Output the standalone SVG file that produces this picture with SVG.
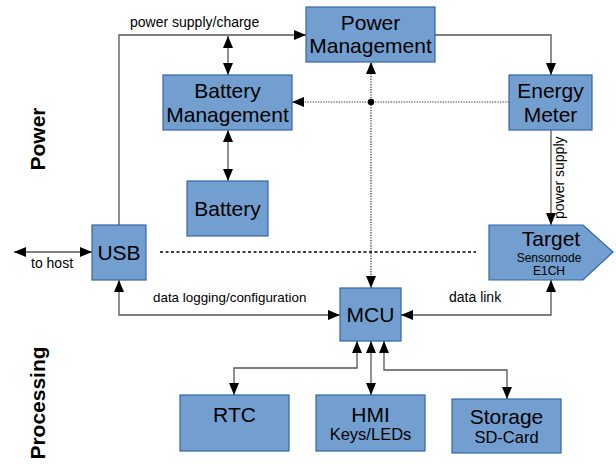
<svg xmlns="http://www.w3.org/2000/svg" width="616" height="464" viewBox="0 0 616 464">
<style>
.box{fill:#729fcf;stroke:#3465a4;stroke-width:1.2}
.t{font-family:"Liberation Sans",Arial,sans-serif;font-size:21px;fill:#000;text-anchor:middle}
.s{font-family:"Liberation Sans",Arial,sans-serif;font-size:16.5px;fill:#000;text-anchor:middle}
.xs{font-family:"Liberation Sans",Arial,sans-serif;font-size:12px;fill:#000;text-anchor:middle}
.lbl{font-family:"Liberation Sans",Arial,sans-serif;font-size:14px;fill:#000}
.sec{font-family:"Liberation Sans",Arial,sans-serif;font-size:21px;font-weight:bold;fill:#000;text-anchor:middle}
.ln{fill:none;stroke:#555;stroke-width:1.3}
.dot{fill:none;stroke:#333;stroke-width:1.2;stroke-dasharray:1.3 1.3}
.dash{fill:none;stroke:#000;stroke-width:1.3;stroke-dasharray:3 2.5}
</style>
<defs>
<marker id="a" viewBox="0 0 12 10" refX="12" refY="5" markerWidth="12" markerHeight="10" markerUnits="userSpaceOnUse" orient="auto-start-reverse">
<path d="M0,0 L12,5 L0,10 z" fill="#000"/>
</marker>
</defs>
<text class="sec" transform="translate(45,139) rotate(-90)">Power</text>
<text class="sec" transform="translate(45,403) rotate(-90)">Processing</text>
<g id="connectors">
<path class="ln" d="M119,225 L119,35 L306,35" marker-end="url(#a)"/>
<text class="lbl" x="130" y="27">power supply/charge</text>
<path class="ln" d="M228,36 L228,75" marker-start="url(#a)" marker-end="url(#a)"/>
<path class="ln" d="M228,130 L228,181" marker-start="url(#a)" marker-end="url(#a)"/>
<path class="ln" d="M435,35 L551,35 L551,75" marker-end="url(#a)"/>
<path class="ln" d="M551,130 L551,225" marker-end="url(#a)"/>
<text class="lbl" transform="translate(564,219) rotate(-90)">power supply</text>
<path class="dot" d="M509,102 L292,102" marker-end="url(#a)"/>
<path class="dot" d="M371,288 L371,62" marker-start="url(#a)" marker-end="url(#a)"/>
<circle cx="371" cy="102" r="3.2" fill="#000"/>
<path class="dash" d="M160,252 L476,252"/>
<path class="ln" d="M14,252 L92,252" marker-start="url(#a)" marker-end="url(#a)"/>
<text class="lbl" x="31" y="268">to host</text>
<path class="ln" d="M119,280 L119,315 L340,315" marker-start="url(#a)" marker-end="url(#a)"/>
<text class="lbl" x="153" y="302" style="font-size:13.4px">data logging/configuration</text>
<path class="ln" d="M401,315 L551,315 L551,280" marker-start="url(#a)" marker-end="url(#a)"/>
<text class="lbl" x="449" y="302">data link</text>
<path class="ln" d="M357,341 L357,368 L234,368 L234,395" marker-start="url(#a)" marker-end="url(#a)"/>
<path class="ln" d="M371,341 L371,395" marker-start="url(#a)" marker-end="url(#a)"/>
<path class="ln" d="M384,341 L384,370 L507,370 L507,399" marker-start="url(#a)" marker-end="url(#a)"/>
</g>
<g id="power-management">
<rect class="box" x="306" y="7" width="129" height="55"/>
<text class="t" x="370.5" y="30">Power</text>
<text class="t" x="370.5" y="53">Management</text>
</g>
<g id="battery-management">
<rect class="box" x="163" y="75" width="129" height="55"/>
<text class="t" x="227.5" y="98">Battery</text>
<text class="t" x="227.5" y="122">Management</text>
</g>
<g id="battery">
<rect class="box" x="187" y="181" width="81" height="55"/>
<text class="t" x="227.5" y="216">Battery</text>
</g>
<g id="energy-meter">
<rect class="box" x="509" y="75" width="83" height="55"/>
<text class="t" x="550.5" y="98">Energy</text>
<text class="t" x="550.5" y="122">Meter</text>
</g>
<g id="usb">
<rect class="box" x="92" y="225" width="54" height="55"/>
<text class="t" x="119" y="260">USB</text>
</g>
<g id="target">
<polygon class="box" points="489,225 583,225 613,252 583,280 489,280"/>
<text class="t" x="551" y="246">Target</text>
<text class="xs" x="549" y="262">Sensornode</text>
<text class="xs" x="549" y="275">E1CH</text>
</g>
<g id="mcu">
<rect class="box" x="340" y="288" width="61" height="53"/>
<text class="t" x="370.5" y="322">MCU</text>
</g>
<g id="rtc">
<rect class="box" x="180" y="395" width="109" height="56"/>
<text class="t" x="234.5" y="422">RTC</text>
</g>
<g id="hmi">
<rect class="box" x="316" y="395" width="109" height="56"/>
<text class="t" x="370.5" y="422">HMI</text>
<text class="s" x="370.5" y="440">Keys/LEDs</text>
</g>
<g id="storage">
<rect class="box" x="452" y="399" width="109" height="54"/>
<text class="t" x="506.5" y="424">Storage</text>
<text class="s" x="506.5" y="443">SD-Card</text>
</g>
</svg>
